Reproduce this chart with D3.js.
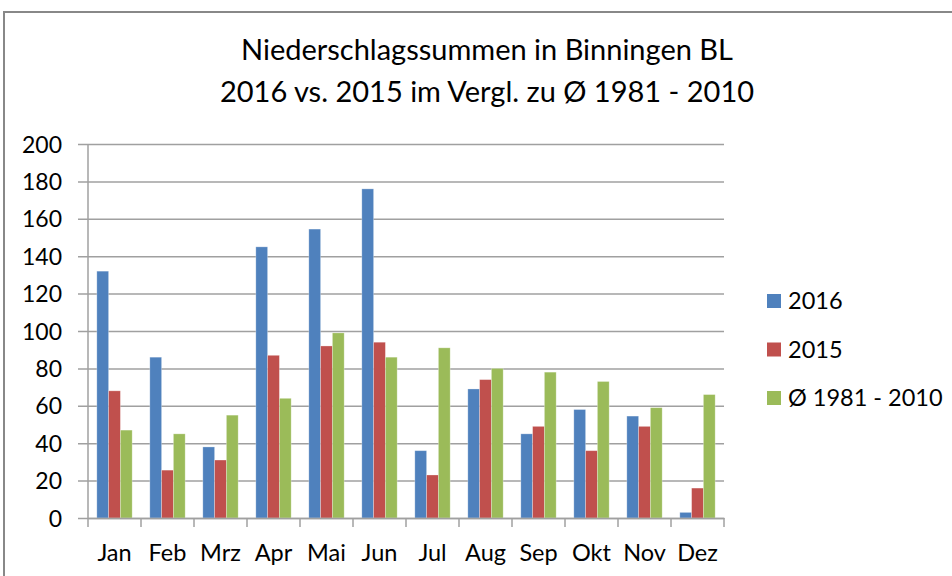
<!DOCTYPE html>
<html>
<head>
<meta charset="utf-8">
<script src="https://cdn.jsdelivr.net/npm/d3@7"></script>
<style>
  body { margin: 0; background: #fff; }
  text { font-family: Lato, "Open Sans", sans-serif; fill: #000; }
</style>
</head>
<body>
<div id="chart"></div>
<script>
const months = ['Jan', 'Feb', 'Mrz', 'Apr', 'Mai', 'Jun', 'Jul', 'Aug', 'Sep', 'Okt', 'Nov', 'Dez'];
const seriesNames = ['2016', '2015', 'Ø 1981 - 2010'];
const values2016 = [132, 86, 38, 145, 154.5, 176, 36, 69, 45, 58, 54.5, 3];
const values2015 = [68, 25.6, 31, 87, 92, 94, 23, 74, 49, 36, 49, 16];
const valuesMean = [47, 45, 55, 64, 99, 86, 91, 80, 78, 73, 59, 66];
const yTicks = [0, 20, 40, 60, 80, 100, 120, 140, 160, 180, 200];
const colors = ['#4f81bd', '#c0504d', '#9bbb59'];

const allSeries = [values2016, values2015, valuesMean];

const width = 952, height = 576;
const plotLeft = 88, plotRight = 724, plotTop = 144, plotBottom = 518;

const svg = d3.select('#chart')
  .append('svg')
    .attr('width', width)
    .attr('height', height);

// outer frame (runs off the right and bottom edge)
svg.append('rect')
    .attr('x', 4).attr('y', 12)
    .attr('width', 1000).attr('height', 600)
    .attr('fill', 'none')
    .attr('stroke', '#888')
    .attr('stroke-width', 2);

// title
svg.append('text')
    .attr('x', 487).attr('y', 60)
    .attr('text-anchor', 'middle')
    .style('font-size', '29px')
    .text('Niederschlagssummen in Binningen BL');
svg.append('text')
    .attr('x', 487).attr('y', 102)
    .attr('text-anchor', 'middle')
    .style('font-size', '29px')
    .text('2016 vs. 2015 im Vergl. zu Ø 1981 - 2010');

const y = d3.scaleLinear().domain([0, 200]).range([plotBottom, plotTop]);
const x = d3.scaleBand().domain(months).range([plotLeft, plotRight]).padding(0);
const xSub = d3.scaleBand().domain(seriesNames).range([0, x.bandwidth()])
  .paddingInner(0).paddingOuter(0.75);

// gridlines + y ticks
const yAxis = svg.append('g')
    .attr('transform', `translate(${plotLeft},0)`)
    .call(d3.axisLeft(y).tickValues(yTicks).tickSize(-(plotRight - plotLeft)).tickPadding(16));
yAxis.select('.domain').remove();
yAxis.selectAll('.tick line')
    .attr('x1', -10)
    .attr('stroke', '#a0a0a0')
    .attr('stroke-width', 1.5);
yAxis.selectAll('.tick text')
    .style('font-size', '23px')
    .attr('x', -26)
    .attr('dy', '0.35em');

// vertical axis line
svg.append('line')
    .attr('x1', plotLeft).attr('x2', plotLeft)
    .attr('y1', plotTop).attr('y2', plotBottom)
    .attr('stroke', '#a0a0a0').attr('stroke-width', 1.5);

// bars
months.forEach((m, i) => {
  const g = svg.append('g').attr('transform', `translate(${x(m)},0)`);
  g.selectAll('rect')
    .data(seriesNames.map((s, k) => ({ s: s, v: allSeries[k][i], c: colors[k] })))
    .enter()
    .append('rect')
      .attr('x', d => xSub(d.s))
      .attr('y', d => y(d.v))
      .attr('width', xSub.bandwidth())
      .attr('height', d => y(0) - y(d.v))
      .attr('fill', d => d.c)
      .attr('stroke', 'rgba(255,255,255,0.35)')
      .attr('stroke-width', 0.8);
});

// x axis with category ticks
const xAxis = svg.append('g')
    .attr('transform', `translate(0,${plotBottom})`)
    .call(d3.axisBottom(x).tickSize(0).tickPadding(26));
xAxis.select('.domain')
    .attr('stroke', '#a0a0a0').attr('stroke-width', 1.5);
xAxis.selectAll('.tick text').style('font-size', '23.5px');
svg.append('g')
  .selectAll('line')
  .data(d3.range(months.length + 1))
  .enter()
  .append('line')
    .attr('x1', d => plotLeft + d * x.step())
    .attr('x2', d => plotLeft + d * x.step())
    .attr('y1', plotBottom).attr('y2', plotBottom + 9)
    .attr('stroke', '#a0a0a0').attr('stroke-width', 1.5);

// legend
const legend = svg.append('g')
  .selectAll('g')
  .data(seriesNames)
  .enter()
  .append('g')
    .attr('transform', (d, i) => `translate(767,${301 + i * 48.5})`);
legend.append('rect')
    .attr('x', 0).attr('y', -7)
    .attr('width', 14).attr('height', 14)
    .attr('fill', (d, i) => colors[i]);
legend.append('text')
    .attr('x', 21).attr('dy', '0.35em')
    .style('font-size', '23.5px')
    .text(d => d);
</script>
</body>
</html>
